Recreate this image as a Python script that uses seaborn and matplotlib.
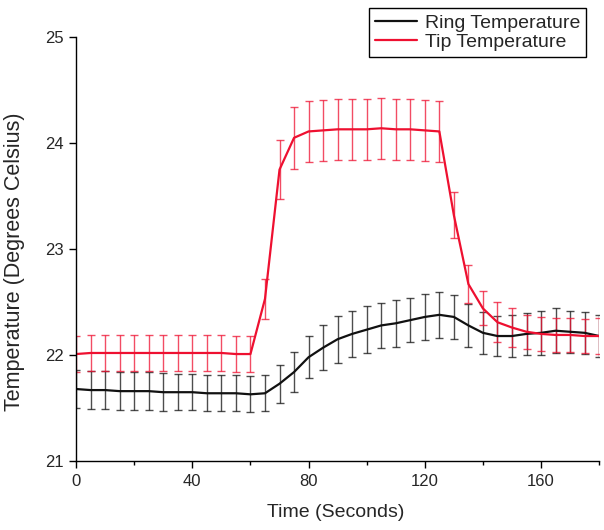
import numpy as np
import pandas as pd
import seaborn as sns
import matplotlib.pyplot as plt
from matplotlib.ticker import MultipleLocator

time = [0, 5, 10, 15, 20, 25, 30, 35, 40, 45, 50, 55, 60,
        65, 70, 75, 80, 85, 90, 95, 100, 105, 110, 115, 120,
        125, 130, 135, 140, 145, 150, 155, 160, 165, 170, 175, 180]

ring = [21.68, 21.67, 21.67, 21.66, 21.66, 21.66, 21.65, 21.65, 21.65, 21.64, 21.64, 21.64, 21.63,
        21.64, 21.73, 21.84, 21.98, 22.07, 22.15, 22.20, 22.24, 22.28, 22.30, 22.33, 22.36,
        22.38, 22.36, 22.28, 22.21, 22.18, 22.18, 22.20, 22.21, 22.23, 22.22, 22.21, 22.18]
ring_err = [0.18, 0.18, 0.18, 0.18, 0.18, 0.18, 0.18, 0.17, 0.17, 0.17, 0.17, 0.17, 0.17,
            0.17, 0.18, 0.19, 0.20, 0.21, 0.22, 0.22, 0.22, 0.21, 0.22, 0.21, 0.22,
            0.22, 0.21, 0.20, 0.20, 0.19, 0.20, 0.20, 0.21, 0.21, 0.20, 0.20, 0.20]

tip = [22.01, 22.02, 22.02, 22.02, 22.02, 22.02, 22.02, 22.02, 22.02, 22.02, 22.02, 22.01, 22.01,
       22.53, 23.75, 24.05, 24.11, 24.12, 24.13, 24.13, 24.13, 24.14, 24.13, 24.13, 24.12,
       24.11, 23.32, 22.67, 22.44, 22.31, 22.26, 22.22, 22.20, 22.19, 22.19, 22.18, 22.18]
tip_err = [0.17, 0.17, 0.17, 0.17, 0.17, 0.17, 0.17, 0.17, 0.17, 0.17, 0.17, 0.17, 0.17,
           0.19, 0.28, 0.29, 0.29, 0.29, 0.29, 0.29, 0.29, 0.29, 0.29, 0.29, 0.29,
           0.29, 0.22, 0.18, 0.16, 0.19, 0.18, 0.16, 0.16, 0.16, 0.16, 0.16, 0.17]

series = ['Ring Temperature', 'Tip Temperature']
colors = {'Ring Temperature': '#111111', 'Tip Temperature': '#ee1030'}

df = pd.concat([
    pd.DataFrame({'time': time, 'temp': ring, 'err': ring_err, 'series': series[0]}),
    pd.DataFrame({'time': time, 'temp': tip, 'err': tip_err, 'series': series[1]}),
])

sns.set_theme(style='ticks')
plt.rcParams['font.family'] = ['Liberation Sans', 'DejaVu Sans']

fig = plt.figure(figsize=(6.04, 5.30), dpi=100)
ax = fig.add_axes([0.126, 0.130, 0.866, 0.800])

for name in series:
    d = df[df['series'] == name]
    ax.errorbar(d['time'], d['temp'], yerr=d['err'], fmt='none',
                ecolor=colors[name], elinewidth=1.0, capsize=3, capthick=1.0, alpha=0.75)

sns.lineplot(data=df, x='time', y='temp', hue='series', palette=colors,
             linewidth=1.6, ax=ax)

ax.set_xlim(0, 180)
ax.set_ylim(21, 25)
ax.xaxis.set_major_locator(MultipleLocator(40))
ax.xaxis.set_minor_locator(MultipleLocator(20))
ax.yaxis.set_major_locator(MultipleLocator(1))
ax.tick_params(axis='both', which='major', length=5, width=1, labelsize=12, color='black', pad=4)
ax.tick_params(axis='x', which='minor', length=3, width=1, color='black')
sns.despine(ax=ax)
for s in ['left', 'bottom']:
    ax.spines[s].set_linewidth(1.0)
    ax.spines[s].set_color('black')

ax.set_xlabel('Time (Seconds)', fontsize=14)
ax.set_ylabel('Temperature (Degrees Celsius)', fontsize=15.5)
ax.xaxis.set_label_coords(0.497, -0.101)
ax.yaxis.set_label_coords(-0.0975, 0.469)

leg = ax.legend(loc='upper right', bbox_to_anchor=(0.9755, 1.068), fontsize=14,
                frameon=True, fancybox=False, edgecolor='black', framealpha=1,
                handlelength=2.2, handletextpad=0.4, borderpad=0.3,
                labelspacing=0.1, borderaxespad=0)
leg.get_frame().set_linewidth(1.0)

fig.savefig('out.png', dpi=100)
